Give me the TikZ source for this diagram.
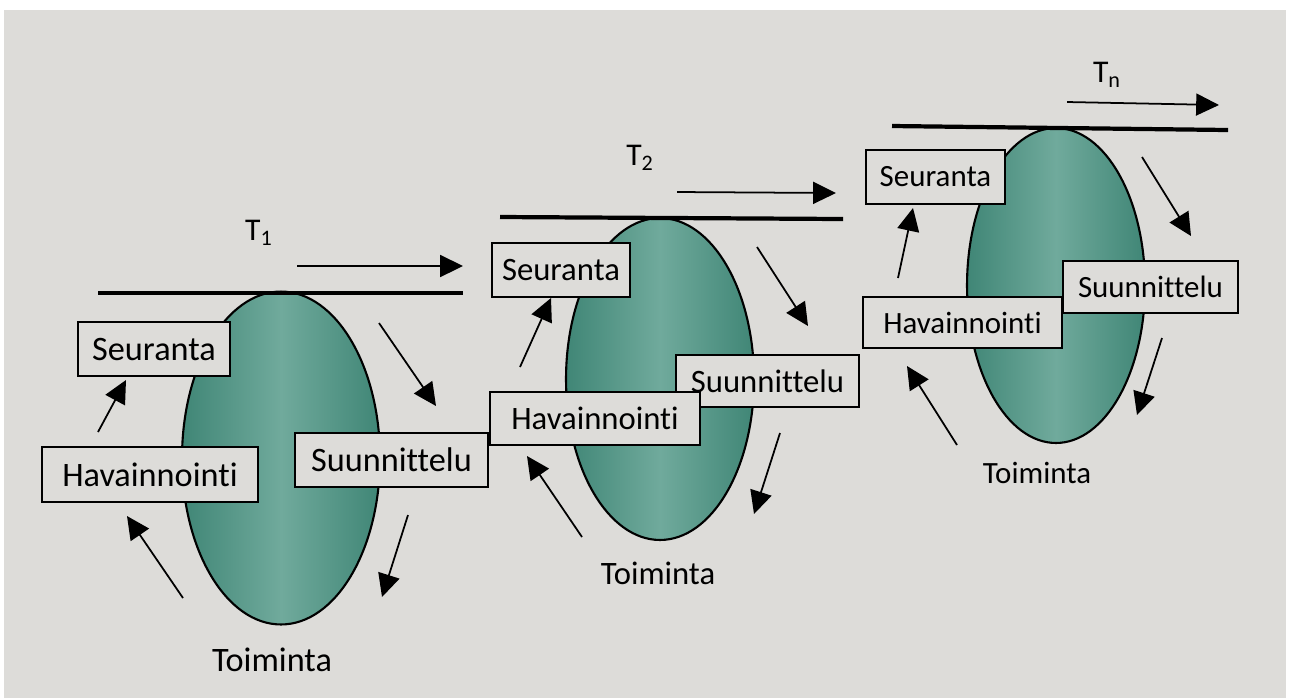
\documentclass[tikz,border=0pt]{standalone}
\usepackage{fontspec}
\setmainfont{Carlito}[Ligatures={TeX,NoCommon}]
\usepackage{tikz}
\usetikzlibrary{arrows.meta,positioning,shapes}
\definecolor{paper}{RGB}{221,220,217}
\definecolor{ovaledge}{RGB}{64,134,118}
\definecolor{ovalmid}{RGB}{112,170,156}

\begin{document}
\begin{tikzpicture}[->,>={Triangle[length=13pt,width=12.5pt]},x=0.02cm,y=-0.02cm,line width=1pt]
        \tikzstyle{phase} = [rectangle, draw, fill=paper, inner sep=0pt, line width=1pt]
        \tikzstyle{oval} = [ellipse, draw, line width=1.2pt, inner sep=0pt, shading=axis, left color=ovaledge, right color=ovaledge, middle color=ovalmid]
        \tikzstyle{timeline} = [-, line width=2.4pt]
        \tikzstyle{big} = [font=\fontsize{19.5}{22}\selectfont]
        \tikzstyle{mid} = [font=\fontsize{18.6}{21}\selectfont]
        \tikzstyle{small} = [font=\fontsize{17.6}{20}\selectfont]
        \tikzstyle{tlabel} = [font=\fontsize{18}{20}\selectfont]

        % Paper
        \useasboundingbox (0,0) rectangle (1290,698);
        \fill[white] (0,0) rectangle (1290,698);
        \fill[paper] (4,10) rectangle (1286,698);

        % Ovals
        \node[oval, minimum width=3.96cm, minimum height=6.66cm] (c1) at (281,458) {};
        \node[oval, minimum width=3.76cm, minimum height=6.44cm] (c2) at (660,379) {};
        \node[oval, minimum width=3.56cm, minimum height=6.30cm] (c3) at (1056,285.5) {};

        % Nodes
        \node[phase, big, minimum width=3.86cm, minimum height=1.08cm] (p1) at (391.5,460) {Suunnittelu};
        \node[phase, big, minimum width=4.32cm, minimum height=1.10cm] (h1) at (150,474.5) {Havainnointi};
        \node[phase, big, minimum width=3.04cm, minimum height=1.08cm] (s1) at (154,349) {Seuranta};
        \node[phase, mid, minimum width=3.66cm, minimum height=1.04cm] (p2) at (767.5,381) {Suunnittelu};
        \node[phase, mid, minimum width=4.20cm, minimum height=1.06cm] (h2) at (595,418.5) {Havainnointi};
        \node[phase, mid, minimum width=2.76cm, minimum height=1.08cm] (s2) at (561,270) {Seuranta};
        \node[phase, small, minimum width=3.50cm, minimum height=1.04cm] (p3) at (1150.5,287) {Suunnittelu};
        \node[phase, small, minimum width=3.98cm, minimum height=1.02cm] (h3) at (962.5,322.5) {Havainnointi};
        \node[phase, small, minimum width=2.78cm, minimum height=1.08cm] (s3) at (935.5,177) {Seuranta};

        \node[big] (t1) at (272,660) {Toiminta};
        \node[mid] (t2) at (658,573) {Toiminta};
        \node[small] (t3) at (1037,473) {Toiminta};

        \node[tlabel] (T1) at (259,233) {T\textsubscript{1}};
        \node[tlabel] (T2) at (640,158) {T\textsubscript{2}};
        \node[tlabel] (Tn) at (1107,75) {T\textsubscript{n}};

        % Time lines
        \coordinate (l1a) at (98,293);   \coordinate (l1b) at (463,293);
        \coordinate (l2a) at (500,217);  \coordinate (l2b) at (843,219);
        \coordinate (l3a) at (892,126);  \coordinate (l3b) at (1228,130);
        \path[timeline] (l1a) edge (l1b);
        \path[timeline] (l2a) edge (l2b);
        \path[timeline] (l3a) edge (l3b);

        \coordinate (m1a) at (297,266);  \coordinate (m1b) at (463,266);
        \coordinate (m2a) at (677,192);  \coordinate (m2b) at (836,193);
        \coordinate (m3a) at (1067,102); \coordinate (m3b) at (1219,105);
        \path (m1a) edge (m1b);
        \path (m2a) edge (m2b);
        \path (m3a) edge (m3b);

        % Edges
        \coordinate (a1) at (98,432);   \coordinate (b1) at (126,380);
        \coordinate (c1a) at (379,323); \coordinate (d1) at (436,406);
        \coordinate (e1) at (408,515);  \coordinate (f1) at (382,597);
        \coordinate (g1) at (183,598);  \coordinate (k1) at (127,516);
        \path (a1) edge (b1);
        \path (c1a) edge (d1);
        \path (e1) edge (f1);
        \path (g1) edge (k1);

        \coordinate (a2) at (520,367);  \coordinate (b2) at (551,298);
        \coordinate (c2a) at (757,247); \coordinate (d2) at (808,326);
        \coordinate (e2) at (780,433);  \coordinate (f2) at (754,514);
        \coordinate (g2) at (582,537);  \coordinate (k2) at (527,456);
        \path (a2) edge (b2);
        \path (c2a) edge (d2);
        \path (e2) edge (f2);
        \path (g2) edge (k2);

        \coordinate (a3) at (898,278);   \coordinate (b3) at (913,208);
        \coordinate (c3a) at (1142,157); \coordinate (d3) at (1191,236);
        \coordinate (e3) at (1162,338);  \coordinate (f3) at (1137,415);
        \coordinate (g3) at (957,445);   \coordinate (k3) at (907,366);
        \path (a3) edge (b3);
        \path (c3a) edge (d3);
        \path (e3) edge (f3);
        \path (g3) edge (k3);
    \end{tikzpicture}
\end{document}
